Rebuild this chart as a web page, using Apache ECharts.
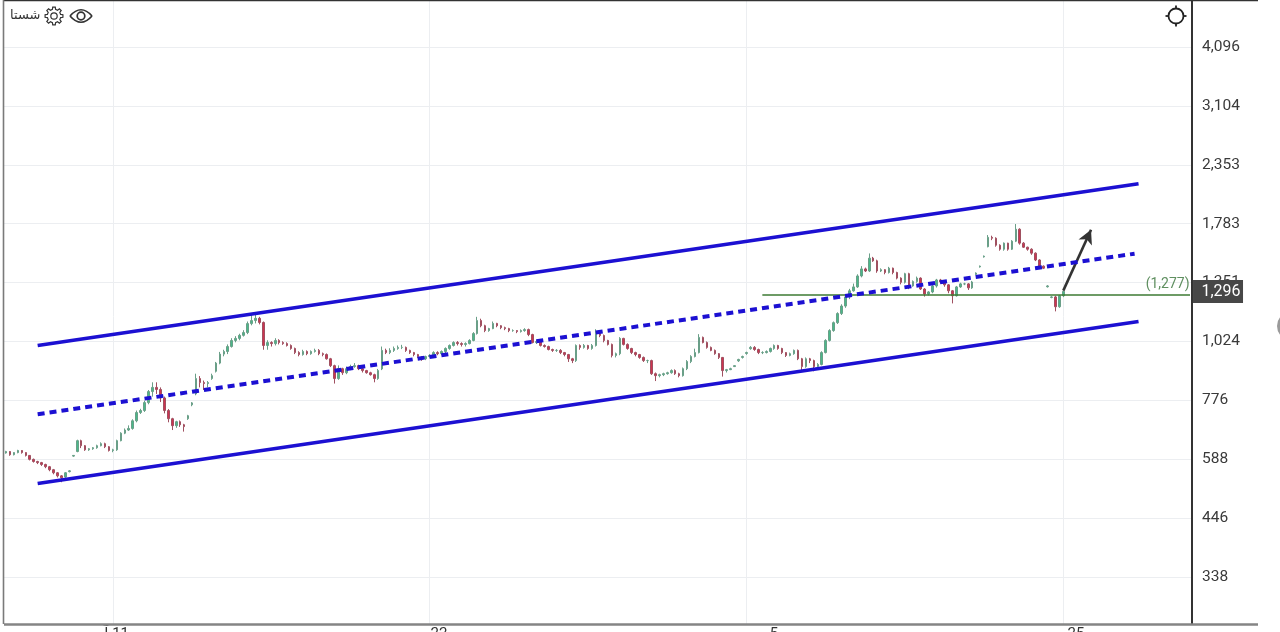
<!DOCTYPE html>
<html><head><meta charset="utf-8">
<style>html,body{margin:0;padding:0;background:#fff}#c{width:1280px;height:632px}</style>
<script src="https://cdn.jsdelivr.net/npm/echarts@6/dist/echarts.min.js"></script></head>
<body><div id="c"></div>
<script>
const closes=[610,601,607,613,607,599,588,582,579,574,
568,560,552,544,539,552,557,599,642,627,
615,618,621,627,633,624,613,615,642,665,
675,680,705,733,740,768,809,825,817,785,
740,712,689,702,692,686,722,767,860,844,
840,844,872,925,965,977,1000,1029,1039,1054,
1068,1114,1130,1142,1120,1005,1019,1014,1029,1019,
1014,1005,991,972,963,977,967,977,982,967,
963,944,914,860,901,884,901,910,914,901,
893,884,876,860,893,982,972,982,991,996,
996,982,972,963,954,944,954,959,972,967,
977,991,1005,1019,1014,1010,1014,1029,1063,1130,
1103,1078,1088,1115,1103,1093,1088,1078,1078,1073,
1078,1083,1058,1019,1024,1005,1000,986,982,982,
972,963,944,936,1005,996,1005,991,1005,1063,
1053,1029,1010,959,967,1039,1010,991,972,963,
950,936,936,880,872,876,880,884,893,880,
872,901,932,954,972,1044,1019,996,982,967,
950,893,897,901,914,941,954,972,996,986,
972,972,977,991,1005,991,972,959,967,982,
944,910,944,936,910,919,972,1029,1078,1119,
1168,1210,1263,1300,1324,1394,1441,1427,1516,1497,
1427,1436,1417,1446,1417,1380,1353,1409,1330,1358,
1380,1311,1280,1293,1330,1368,1355,1337,1300,1270,
1324,1343,1343,1318,1355,1413,1460,1530,1672,1665,
1611,1581,1627,1581,1642,1737,1627,1596,1581,1552,
1503,1460,1446,1330,1263,1206,1270,1296];
const opens=[606,610,601,607,613,607,599,588,582,579,
574,568,560,552,544,541,555,597,610,642,
627,615,618,621,627,633,624,613,615,642,
665,675,680,705,733,740,768,809,825,817,
785,740,712,689,702,692,712,760,800,860,
844,840,860,890,925,965,977,1000,1029,1039,
1054,1068,1114,1130,1142,1120,1005,1019,1014,1029,
1019,1014,1005,991,972,963,977,967,977,982,
967,963,944,914,860,901,884,901,910,914,
901,893,884,876,860,900,982,972,982,991,
996,996,982,972,963,954,944,954,959,972,
967,977,991,1005,1019,1014,1010,1014,1029,1063,
1130,1103,1078,1088,1115,1103,1093,1088,1078,1078,
1073,1078,1083,1058,1019,1024,1005,1000,986,982,
982,972,963,944,936,1005,996,1005,991,1005,
1063,1053,1029,1010,959,967,1039,1010,991,972,
963,950,936,936,880,872,876,880,884,893,
880,872,901,932,954,972,1044,1019,996,982,
967,950,893,897,910,935,950,968,990,996,
986,972,972,977,991,1005,991,972,959,967,
982,944,910,944,936,910,919,972,1029,1078,
1119,1168,1210,1263,1300,1324,1394,1441,1427,1516,
1497,1427,1436,1417,1446,1417,1380,1353,1409,1330,
1358,1380,1311,1280,1293,1330,1368,1355,1337,1300,
1270,1324,1343,1343,1318,1405,1455,1525,1600,1672,
1665,1611,1581,1627,1581,1642,1737,1627,1596,1581,
1552,1503,1460,1325,1260,1263,1206,1270];
const highs=[612,611,608,615,614,608,600,590,584,581,
576,570,562,554,546,554,559,600,645,645,
629,620,623,630,637,636,626,618,645,668,
680,690,710,740,746,775,815,845,845,825,
790,745,715,705,706,695,725,770,880,870,
852,850,880,930,975,985,1010,1040,1050,1062,
1080,1125,1160,1165,1150,1125,1030,1025,1040,1035,
1025,1020,1010,995,978,985,982,982,990,988,
972,968,948,918,915,905,910,918,925,918,
905,896,888,880,900,1000,990,992,1000,1005,
1008,1000,985,975,966,956,958,965,978,978,
982,996,1010,1025,1026,1020,1020,1035,1070,1150,
1140,1108,1092,1125,1118,1106,1098,1092,1084,1080,
1084,1090,1088,1062,1032,1030,1010,1004,990,988,
988,975,966,948,1010,1010,1012,1008,1012,1085,
1072,1058,1032,1014,972,1045,1042,1015,994,976,
966,954,940,940,885,880,884,888,898,898,
884,906,938,960,990,1060,1048,1024,1000,986,
970,952,900,905,916,944,958,976,1002,1002,
990,978,982,995,1010,1008,994,974,972,986,
986,948,950,948,940,925,978,1035,1085,1125,
1175,1220,1275,1312,1345,1405,1460,1450,1550,1525,
1505,1445,1440,1455,1450,1422,1385,1415,1415,1365,
1390,1385,1316,1298,1336,1375,1375,1360,1342,1305,
1330,1350,1350,1348,1362,1418,1464,1535,1690,1685,
1672,1618,1632,1630,1650,1780,1745,1635,1600,1588,
1558,1508,1465,1335,1268,1270,1275,1300];
const lows=[604,598,599,605,604,596,585,579,575,570,
564,556,548,540,528,539,553,595,608,620,
612,612,615,618,625,620,610,608,612,640,
662,672,676,700,728,735,762,790,800,770,
730,700,675,682,685,670,708,755,795,825,
815,825,855,885,920,955,965,995,1020,1030,
1048,1060,1105,1115,1110,985,985,1000,1005,1010,
1008,1000,985,965,955,958,960,962,972,960,
955,940,908,840,855,875,878,895,905,895,
885,880,872,845,855,895,965,965,975,985,
988,975,966,955,948,935,938,950,955,960,
960,970,985,1000,1005,1000,1000,1010,1025,1058,
1095,1070,1072,1085,1095,1085,1080,1070,1072,1065,
1068,1072,1050,1015,1012,1000,995,982,975,975,
965,955,930,925,930,985,990,985,985,1000,
1045,1020,1005,950,950,960,1005,985,965,955,
944,930,925,875,850,865,870,876,880,875,
865,868,895,925,950,968,1015,990,978,962,
943,868,885,895,908,930,945,962,985,980,
965,965,968,972,985,985,965,952,955,962,
938,895,905,925,890,905,915,968,1024,1072,
1112,1160,1200,1250,1295,1318,1385,1420,1420,1490,
1415,1420,1405,1410,1405,1372,1340,1345,1310,1325,
1350,1305,1265,1272,1285,1320,1345,1325,1285,1225,
1265,1318,1335,1305,1312,1400,1450,1520,1595,1650,
1600,1570,1570,1570,1575,1635,1615,1590,1570,1540,
1495,1450,1440,1320,1255,1180,1200,1262];
const slotCount=300;
const dateLabels={27:'\u00A0\u00A0آ\u200E 11',107:'\u00A0\u00A0\u00A0\u00A0\u00A022',187:'\u00A0\u00A0\u00A0\u00A0\u00A0\u00A0\u00A0\u00A0\u00A0ب\u200E\u00A0\u00A05',267:'\u00A0\u00A0ب\u200E 25'};
const upperChannel=[[8.1,1005],[285.9,2152]];
const middleChannel=[[8.1,727],[284.6,1548]];
const lowerChannel=[[8.1,525],[285.9,1125]];
const supportLevel=1277, supportFrom=190.8, supportTo=299;
const lastPrice=1296;
const arrowFrom=[267.2,1301], arrowTo=[274,1733];
const symbolName='شستا';
const yBase=Math.pow(2,0.4);

const cats=Array.from({length:slotCount},(_,i)=>dateLabels[i]||String(i));
const ohlc=closes.map((c,i)=>[opens[i],c,lows[i],highs[i]]);
const FONT='Roboto, "Noto Sans", sans-serif';
const BLUE='#1c10d2';
const chLine=(d,dash,w)=>({type:'line',data:d,symbol:'none',silent:true,z:5,
  lineStyle:{color:BLUE,width:w,type:dash||'solid',cap:'butt'}});

function gearPoints(cx,cy,r1,r2,n){
  const p=[];
  for(let k=0;k<n;k++){
    const s=2*Math.PI/n, a=k*s;
    [[-.30,r1],[-.18,r2],[.18,r2],[.30,r1]].forEach(q=>{
      const t=a+q[0]*s; p.push([cx+q[1]*Math.cos(t),cy+q[1]*Math.sin(t)]);
    });
  }
  return p;
}
const hair=(x1,y1,x2,y2,c,w)=>({type:'line',shape:{x1,y1,x2,y2},style:{stroke:c,lineWidth:w},silent:true,z:50});
const eyeLid=(cy)=>({type:'bezierCurve',shape:{x1:70,y1:16,cpx1:81,cpy1:cy,x2:92,y2:16},style:{fill:'none',stroke:'#333',lineWidth:1.7},silent:true,z:50});
const isDate=(i)=>dateLabels[i]!==undefined;

const chart=echarts.init(document.getElementById('c'),null,{renderer:'canvas'});
chart.setOption({
  animation:false,backgroundColor:'#fff',
  grid:{left:4,top:0,width:1188,height:636,containLabel:false,outerBoundsMode:'none'},
  xAxis:[
    {type:'category',data:cats,boundaryGap:true,z:0,
      axisLine:{show:false},axisTick:{show:false},axisLabel:{show:false},
      splitLine:{show:true,alignWithLabel:true,interval:isDate,lineStyle:{color:'#eceef1',width:1}}},
    {type:'category',data:cats,boundaryGap:true,position:'bottom',z:10,
      axisLine:{show:false},axisTick:{show:false},splitLine:{show:false},
      axisLabel:{show:true,margin:-9,fontSize:15,fontFamily:'Roboto, "DejaVu Sans", sans-serif',color:'#333',hideOverlap:false,
        interval:isDate,formatter:v=>v}}
  ],
  yAxis:{type:'log',logBase:yBase,min:256,max:5110,position:'right',interval:1,
    axisLine:{show:true,onZero:false,lineStyle:{color:'#333',width:2}},axisTick:{show:false},
    axisLabel:{margin:10,padding:[2,0,0,0],fontSize:15.5,fontFamily:FONT,color:'#3a3a3a',showMinLabel:false,showMaxLabel:false,
      formatter:v=>Math.round(v).toLocaleString('en-US')},
    splitLine:{show:true,showMinLine:false,showMaxLine:false,lineStyle:{color:'#eceef1',width:1}}},
  series:[
    {type:'candlestick',data:ohlc,barWidth:2,silent:true,z:3,
      itemStyle:{color:'#49b98a',color0:'#cf3350',borderColor:'#6a9f88',borderColor0:'#a05060',borderWidth:1}},
    chLine(upperChannel,null,3.6),chLine(middleChannel,[7,5],4),chLine(lowerChannel,null,3.6),
    {type:'line',data:[],silent:true,symbol:'none',z:8,
      markLine:{silent:true,symbol:'none',animation:false,
        lineStyle:{color:'#3d7a33',width:1.5,type:'solid'},
        label:{show:true,position:'insideEndTop',formatter:'('+supportLevel.toLocaleString('en-US')+') ',distance:[-3,3],
          color:'#5f8f60',fontSize:14,fontFamily:FONT},
        data:[[{coord:[supportFrom,supportLevel]},{coord:[supportTo,supportLevel]}]]}},
    {type:'line',data:[],silent:true,symbol:'none',z:9,
      markLine:{silent:true,animation:false,symbol:['none','arrow'],symbolSize:[11,14],
        lineStyle:{color:'#333',width:2.6,type:'solid'},label:{show:false},
        data:[[{coord:arrowFrom},{coord:arrowTo}]]}},
    {type:'line',data:[],silent:true,symbol:'none',z:30,
      markPoint:{silent:true,animation:false,symbol:'rect',symbolSize:[50,23],symbolOffset:[28,0],
        itemStyle:{color:'#474747'},
        label:{show:true,position:'inside',offset:[3,1],color:'#fff',fontSize:16,fontFamily:FONT,formatter:lastPrice.toLocaleString('en-US')},
        data:[{coord:[299,lastPrice]}]}}
  ],
  graphic:[
    {type:'rect',shape:{x:0,y:625,width:1280,height:7},style:{fill:'#fff'},silent:true,z:5},
    hair(4,0.5,1258,0.5,'#333',1.5),
    hair(3.5,0,3.5,624,'#7a7a7a',1.6),
    hair(4,624.5,1258,624.5,'#858585',2.4),
    {type:'text',x:10,y:9,silent:true,z:50,style:{text:symbolName,font:'13px "DejaVu Sans"',fill:'#333'}},
    {type:'polygon',shape:{points:gearPoints(54,16,6.8,9,8)},style:{fill:'none',stroke:'#333',lineWidth:1.2},silent:true,z:50},
    {type:'circle',shape:{cx:54,cy:16,r:3.2},style:{fill:'none',stroke:'#333',lineWidth:1.2},silent:true,z:50},
    eyeLid(3.5),eyeLid(28.5),
    {type:'circle',shape:{cx:81,cy:16,r:3.8},style:{fill:'none',stroke:'#333',lineWidth:1.7},silent:true,z:50},
    {type:'circle',shape:{cx:1176,cy:16,r:7.5},style:{fill:'none',stroke:'#222',lineWidth:1.8},silent:true,z:50},
    hair(1176,5.5,1176,8.5,'#222',1.8),hair(1176,23.5,1176,26.5,'#222',1.8),
    hair(1165.5,16,1168.5,16,'#222',1.8),hair(1183.5,16,1186.5,16,'#222',1.8),
    {type:'circle',shape:{cx:1291,cy:326,r:12.5},style:{fill:'none',stroke:'#9a9a9a',lineWidth:3},silent:true,z:50}
  ]
});
</script></body></html>
